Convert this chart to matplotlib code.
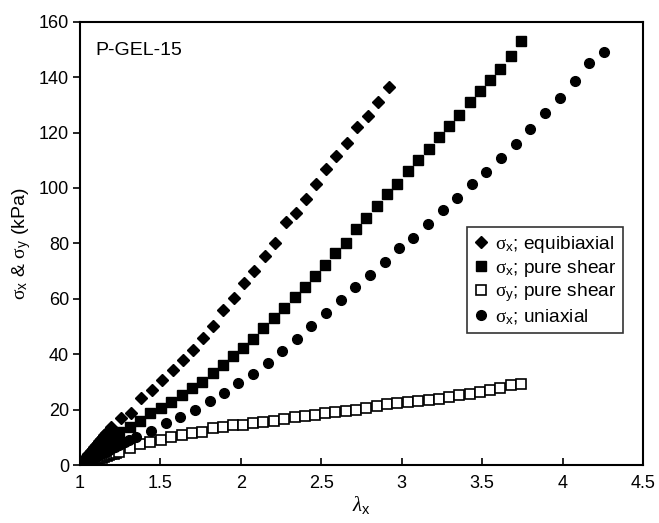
import matplotlib
matplotlib.use("Agg")
import matplotlib.pyplot as plt

plt.rcParams['font.family'] = ['Liberation Sans', 'DejaVu Sans']
plt.rcParams['mathtext.fontset'] = 'custom'
plt.rcParams['mathtext.rm'] = 'Liberation Serif'
plt.rcParams['mathtext.it'] = 'Liberation Serif:italic'
plt.rcParams['mathtext.sf'] = 'Liberation Sans'

# equibiaxial, sigma_x
eq_x = [1.00, 1.01, 1.02, 1.03, 1.04, 1.05, 1.06, 1.07, 1.08, 1.09, 1.10, 1.11,
        1.12, 1.13, 1.14, 1.15, 1.16, 1.19, 1.253, 1.317, 1.379, 1.445, 1.511,
        1.576, 1.638, 1.700, 1.766, 1.828, 1.890, 1.957, 2.019, 2.083, 2.149,
        2.213, 2.278, 2.340, 2.402, 2.466, 2.532, 2.594, 2.657, 2.722, 2.791,
        2.853, 2.919]
eq_y = [0.0, 0.8, 1.5, 2.3, 3.0, 3.8, 4.5, 5.2, 5.9, 6.6, 7.3, 8.0,
        8.6, 9.3, 10.0, 10.7, 11.4, 13.8, 17.0, 18.8, 24.2, 27.0, 30.6,
        34.2, 37.8, 41.6, 46.0, 50.2, 55.8, 60.2, 65.6, 70.1, 75.3,
        80.3, 87.8, 90.8, 95.9, 101.5, 106.7, 111.5, 116.1, 121.9, 125.9,
        130.9, 136.4]

# pure shear, shared lambda_x
ps_x = [1.00, 1.015, 1.03, 1.045, 1.06, 1.075, 1.09, 1.105, 1.12, 1.135, 1.15,
        1.165, 1.18, 1.195, 1.21, 1.225, 1.244, 1.311, 1.373, 1.435, 1.501,
        1.565, 1.632, 1.694, 1.760, 1.824, 1.890, 1.952, 2.014, 2.076, 2.139,
        2.207, 2.269, 2.335, 2.398, 2.464, 2.526, 2.588, 2.652, 2.718, 2.781,
        2.847, 2.911, 2.973, 3.039, 3.101, 3.168, 3.230, 3.294, 3.356, 3.422,
        3.484, 3.547, 3.613, 3.677, 3.743]
psx_y = [0.0, 0.7, 1.5, 2.2, 3.0, 3.7, 4.4, 5.1, 5.9, 6.6, 7.3,
         8.0, 8.7, 9.5, 10.2, 10.9, 12.0, 13.8, 15.8, 18.8, 20.6,
         22.8, 25.4, 27.8, 30.0, 33.2, 36.0, 39.2, 42.2, 45.4, 49.4,
         53.0, 56.8, 60.5, 64.4, 68.3, 72.2, 76.4, 80.3, 85.1, 89.1,
         93.5, 97.7, 101.5, 106.1, 110.0, 113.9, 118.3, 122.3, 126.5, 130.9,
         134.9, 139.1, 143.1, 147.5, 152.9]
psy_y = [0.0, 0.3, 0.6, 0.9, 1.2, 1.5, 1.8, 2.1, 2.4, 2.7, 3.0,
         3.3, 3.6, 3.9, 4.1, 4.4, 4.8, 6.0, 7.4, 8.4, 9.2,
         10.0, 10.8, 11.4, 12.0, 13.2, 13.8, 14.3, 14.4, 15.1, 15.5,
         15.9, 16.5, 17.4, 17.7, 18.1, 18.6, 19.3, 19.5, 20.0, 20.7,
         21.3, 21.9, 22.2, 22.6, 23.0, 23.6, 24.0, 24.6, 25.3, 25.8,
         26.4, 27.2, 27.9, 28.8, 29.4]

# uniaxial, sigma_x
ua_x = [1.00, 1.02, 1.04, 1.06, 1.08, 1.10, 1.12, 1.14, 1.16, 1.18, 1.20,
        1.22, 1.24, 1.26, 1.28, 1.306, 1.348, 1.439, 1.532, 1.621, 1.714,
        1.807, 1.894, 1.983, 2.073, 2.166, 2.257, 2.350, 2.439, 2.532, 2.621,
        2.708, 2.801, 2.894, 2.983, 3.070, 3.163, 3.257, 3.346, 3.437, 3.526,
        3.619, 3.708, 3.799, 3.893, 3.981, 4.075, 4.163, 4.255]
ua_y = [0.0, 0.6, 1.2, 1.8, 2.4, 3.0, 3.6, 4.2, 4.8, 5.4, 6.0,
        6.6, 7.2, 7.8, 8.4, 9.0, 10.0, 12.4, 15.0, 17.4, 20.0,
        23.1, 26.1, 29.7, 33.0, 36.8, 41.1, 45.4, 50.0, 54.8, 59.4,
        64.1, 68.6, 73.1, 78.2, 82.1, 86.9, 92.0, 96.5, 101.3, 105.9,
        110.7, 115.7, 121.1, 126.9, 132.5, 138.5, 145.1, 149.0]

fig = plt.figure(figsize=(6.59, 5.23), dpi=100)
ax = fig.add_axes([80/659, 1-465/523, (643-80)/659, (465-21.7)/523])

ax.plot(eq_x, eq_y, 'D', color='black', markersize=6.5, linestyle='none',
        label=r'$\mathrm{\sigma}_{\mathsf{x}}$; equibiaxial')
ax.plot(ps_x, psx_y, 's', color='black', markersize=7, linestyle='none',
        label=r'$\mathrm{\sigma}_{\mathsf{x}}$; pure shear')
ax.plot(ps_x, psy_y, 's', markerfacecolor='white', markeredgecolor='black',
        markeredgewidth=1.2, markersize=7, linestyle='none',
        label=r'$\mathrm{\sigma}_{\mathsf{y}}$; pure shear')
ax.plot(ua_x, ua_y, 'o', color='black', markersize=7, linestyle='none',
        label=r'$\mathrm{\sigma}_{\mathsf{x}}$; uniaxial')

ax.set_xlim(1, 4.5)
ax.set_ylim(0, 160)
ax.set_xticks([1, 1.5, 2, 2.5, 3, 3.5, 4, 4.5])
ax.set_xticklabels(['1', '1.5', '2', '2.5', '3', '3.5', '4', '4.5'])
ax.set_yticks(range(0, 161, 20))

for s in ax.spines.values():
    s.set_linewidth(1.5)
ax.tick_params(axis='y', direction='out', length=5, width=1.2, labelsize=13, pad=3)
ax.tick_params(axis='x', direction='in', length=5, width=1.2, labelsize=13, pad=7)

ax.set_xlabel(r'$\lambda_{\mathsf{x}}$', fontsize=15, labelpad=2)
ax.set_ylabel(r'$\mathrm{\sigma}_{\mathsf{x}}$ & $\mathrm{\sigma}_{\mathsf{y}}$ (kPa)',
              fontsize=14, labelpad=4)

ax.text(0.027, 0.955, 'P-GEL-15', transform=ax.transAxes, fontsize=14,
        ha='left', va='top')

leg = ax.legend(loc='upper right', bbox_to_anchor=(0.9645, 0.5366), borderaxespad=0,
                fontsize=13.8, frameon=True, fancybox=False, handlelength=0.7,
                handletextpad=0.4, labelspacing=0.15, borderpad=0.35)
leg.get_frame().set_edgecolor('black')
leg.get_frame().set_linewidth(1.2)

fig.savefig('out.png', dpi=100)
